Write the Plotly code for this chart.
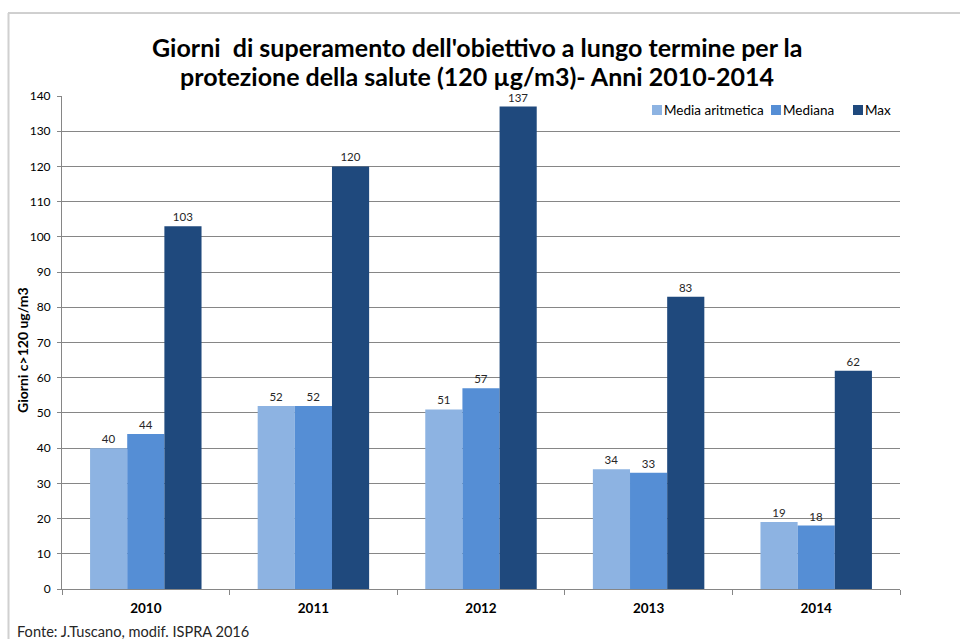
import plotly.graph_objects as go

# Anni e serie di giorni di superamento
anni = ["2010", "2011", "2012", "2013", "2014"]
media_aritmetica = [40, 52, 51, 34, 19]
mediana = [44, 52, 57, 33, 18]
massimo = [103, 120, 137, 83, 62]

serie = [
    ("Media aritmetica", media_aritmetica, "#8DB3E2"),
    ("Mediana", mediana, "#558ED5"),
    ("Max", massimo, "#1F497D"),
]

titolo = [
    "Giorni  di superamento dell'obiettivo a lungo termine per la",
    "protezione della salute (120 µg/m3)- Anni 2010-2014",
]

FONT = "Lato, 'Open Sans', Arial, sans-serif"

fig = go.Figure()
for nome, valori, colore in serie:
    fig.add_trace(go.Bar(
        x=anni, y=valori, name=nome,
        marker=dict(color=colore, line=dict(width=0)),
        text=valori, texttemplate="%{y}", textposition="outside",
        textfont=dict(family=FONT, size=11.5, color="#262626"),
        cliponaxis=False, showlegend=False,
    ))

# margini in pixel dell'area del grafico
L, R, T, B = 62, 60, 96, 50
W, H = 960, 639
pw, ph = W - L - R, H - T - B

def px(x):
    return (x - L) / pw

def py(y):
    return (H - B - y) / ph

shapes = [
    dict(type="line", xref="paper", yref="paper",
         x0=px(8), x1=px(960), y0=py(13), y1=py(13),
         line=dict(color="#A0A0A0", width=1)),
    dict(type="line", xref="paper", yref="paper",
         x0=px(8.5), x1=px(8.5), y0=py(13), y1=py(639),
         line=dict(color="#D0D0D0", width=2)),
]
annotations = [
    dict(text="<b>Giorni c>120 ug/m3</b>", textangle=-90,
         xref="paper", yref="paper", x=px(22), y=py(350),
         xanchor="center", yanchor="middle", showarrow=False,
         font=dict(family=FONT, size=14, color="#000000")),
    dict(text="Fonte: J.Tuscano, modif. ISPRA 2016",
         xref="paper", yref="paper", x=px(15), y=py(631),
         xanchor="left", yanchor="middle", showarrow=False,
         font=dict(family=FONT, size=14.6, color="#262626")),
]
# titolo su due righe
for riga, ty in zip(titolo, [47, 76]):
    annotations.append(dict(text=f"<b>{riga}</b>", xref="paper", yref="paper",
                            x=px(477), y=py(ty), xanchor="center",
                            yanchor="middle", showarrow=False,
                            font=dict(family=FONT, size=25, color="#000000")))

# legenda disegnata a mano: quadratino + etichetta
legenda_x = [652, 771, 853]
for (nome, _, colore), lx in zip(serie, legenda_x):
    shapes.append(dict(type="rect", xref="paper", yref="paper",
                       x0=px(lx), x1=px(lx + 10), y0=py(105), y1=py(115),
                       fillcolor=colore, line=dict(width=0)))
    annotations.append(dict(text=nome, xref="paper", yref="paper",
                            x=px(lx + 10), y=py(110), xanchor="left",
                            yanchor="middle", showarrow=False,
                            font=dict(family=FONT, size=13.5, color="#000000")))

fig.update_layout(
    width=W, height=H,
    margin=dict(l=L, r=R, t=T, b=B),
    paper_bgcolor="white", plot_bgcolor="white",
    barmode="group", bargap=0.335, bargroupgap=0,
    font=dict(family=FONT, color="#000000"),
    showlegend=False,
    xaxis=dict(
        type="category", tickson="boundaries", ticks="outside", ticklen=5,
        tickcolor="#868686", showline=True, linecolor="#868686", linewidth=1,
        tickfont=dict(family=FONT, size=13.5, color="#000000", weight="bold"),
        ticklabelstandoff=7, showgrid=False,
    ),
    yaxis=dict(
        range=[0, 140], dtick=10, ticks="outside", ticklen=4,
        tickcolor="#868686", showline=True, linecolor="#868686", linewidth=1,
        showgrid=True, gridcolor="#868686", gridwidth=1,
        tickfont=dict(family=FONT, size=12, color="#000000"),
        ticklabelstandoff=4, zeroline=False,
    ),
    annotations=annotations,
    shapes=shapes,
)

fig.write_html("out.html")
